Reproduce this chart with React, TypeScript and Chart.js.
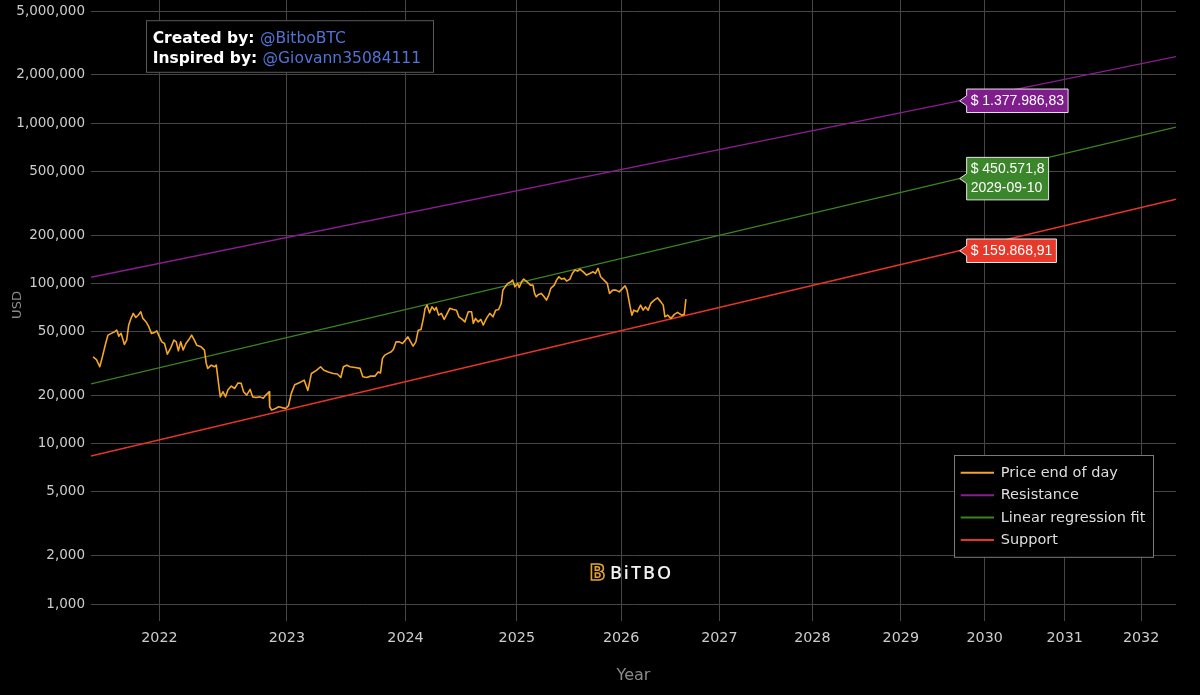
import React, { useEffect, useRef } from 'react';
import { Chart, registerables } from 'chart.js';

Chart.register(...registerables);

const GENESIS = Date.UTC(2009, 0, 3);
const DAY = 86400000;

// ---------- data ----------
const xTickYears = [2022, 2023, 2024, 2025, 2026, 2027, 2028, 2029, 2030, 2031, 2032];
const xTickLabels = ['2022', '2023', '2024', '2025', '2026', '2027', '2028', '2029', '2030', '2031', '2032'];
const yTickValues = [1000, 2000, 5000, 10000, 20000, 50000, 100000, 200000, 500000, 1000000, 2000000, 5000000];

const xRangeDates = ['2021-06-30', '2032-06-21'];
const yRange = [783.5, 6865000];

const priceYears = [
  2021.508, 2021.533, 2021.557, 2021.576, 2021.600, 2021.617, 2021.642, 2021.666, 2021.682, 2021.697,
  2021.714, 2021.738, 2021.755, 2021.770, 2021.787, 2021.804, 2021.823, 2021.842, 2021.860, 2021.876,
  2021.900, 2021.920, 2021.940, 2021.959, 2021.980, 2021.998, 2022.018, 2022.039, 2022.060, 2022.084,
  2022.110, 2022.128, 2022.144, 2022.162, 2022.181, 2022.202, 2022.222, 2022.246, 2022.267, 2022.285,
  2022.319, 2022.345, 2022.359, 2022.371, 2022.398, 2022.424, 2022.437, 2022.458, 2022.469, 2022.489,
  2022.510, 2022.528, 2022.555, 2022.581, 2022.607, 2022.633, 2022.652, 2022.677, 2022.704, 2022.724,
  2022.751, 2022.783, 2022.809, 2022.830, 2022.856, 2022.861, 2022.877, 2022.908, 2022.934, 2022.960,
  2022.991, 2023.013, 2023.036, 2023.064, 2023.115, 2023.142, 2023.172, 2023.201, 2023.243, 2023.277,
  2023.305, 2023.341, 2023.383, 2023.417, 2023.446, 2023.468, 2023.496, 2023.524, 2023.566, 2023.609,
  2023.632, 2023.665, 2023.699, 2023.735, 2023.763, 2023.783, 2023.800, 2023.820, 2023.848, 2023.876,
  2023.895, 2023.918, 2023.946, 2023.974, 2024.021, 2024.045, 2024.066, 2024.090, 2024.111, 2024.135,
  2024.159, 2024.171, 2024.189, 2024.210, 2024.232, 2024.255, 2024.270, 2024.291, 2024.315, 2024.340,
  2024.360, 2024.390, 2024.421, 2024.450, 2024.471, 2024.502, 2024.525, 2024.556, 2024.586, 2024.601,
  2024.622, 2024.646, 2024.670, 2024.691, 2024.721, 2024.751, 2024.781, 2024.805, 2024.832, 2024.856,
  2024.871, 2024.892, 2024.916, 2024.946, 2024.961, 2024.982, 2025.007, 2025.022, 2025.045, 2025.064,
  2025.096, 2025.128, 2025.151, 2025.166, 2025.182, 2025.204, 2025.230, 2025.256, 2025.278, 2025.300,
  2025.319, 2025.352, 2025.374, 2025.396, 2025.422, 2025.448, 2025.470, 2025.502, 2025.525, 2025.550,
  2025.576, 2025.598, 2025.630, 2025.662, 2025.694, 2025.726, 2025.748, 2025.774, 2025.799, 2025.832,
  2025.864, 2025.886, 2025.918, 2025.950, 2025.982, 2026.015, 2026.039, 2026.059, 2026.093, 2026.107,
  2026.127, 2026.161, 2026.194, 2026.219, 2026.242, 2026.270, 2026.296, 2026.331, 2026.364, 2026.398,
  2026.422, 2026.439, 2026.466, 2026.500, 2026.535, 2026.568, 2026.609, 2026.636, 2026.653,
];

const priceValues = [
  34800, 33500, 30200, 34800, 42200, 47600, 48800, 50000, 51100, 46900,
  48800, 41600, 44300, 55000, 60500, 65000, 61300, 63500, 66500, 60500,
  57500, 53700, 48800, 49200, 50600, 46900, 43200, 42200, 36200, 39300,
  44300, 43200, 38000, 43200, 38400, 42200, 44300, 47600, 44300, 41200,
  40200, 38400, 31700, 29500, 30900, 30200, 30900, 22700, 19600, 21100,
  19600, 21600, 22900, 22100, 23900, 23800, 21100, 20100, 21800, 19600,
  19400, 19600, 19200, 20100, 21100, 17000, 16200, 16600, 17000, 16800,
  16600, 17200, 20600, 23300, 24300, 24900, 21500, 27400, 28700, 30200,
  28700, 28000, 27400, 27200, 25900, 30200, 30900, 30200, 29900, 29500,
  26200, 25900, 26400, 26400, 28000, 27600, 34000, 35700, 36600, 37500,
  38800, 43200, 43200, 42200, 46400, 43200, 40600, 43200, 51100, 51600,
  61900, 69900, 73200, 65500, 71400, 68100, 70800, 63400, 65000, 59600,
  63400, 69900, 68800, 68100, 61900, 59600, 57500, 66500, 66500, 56300,
  60500, 57500, 59600, 55000, 60500, 65000, 61900, 68100, 68800, 75000,
  90800, 95200, 100000, 102300, 104900, 95200, 100000, 94400, 102300, 106400,
  102300, 97600, 97600, 86600, 82500, 85400, 86600, 82500, 78700, 84500,
  93100, 97600, 104900, 110000, 106400, 107500, 103400, 106400, 115400, 121100,
  119300, 122800, 118100, 112700, 115400, 118100, 115400, 124100, 110000, 104900,
  100000, 86600, 90800, 90800, 88600, 93100, 96600, 90800, 69900, 63400,
  68100, 66500, 73200, 68100, 71400, 68100, 75000, 78700, 81300, 76700,
  73200, 61900, 63400, 60500, 64100, 66000, 63400, 64100, 79800,
];

const lineDates = ['2021-06-30', '2029-09-10', '2032-06-21'];
const resistanceValues = [109200, 1377986.83, 2603000];
const regressionValues = [23610, 450571.8, 944000];
const supportValues = [8377, 159868.91, 334900];
const markerDate = '2029-09-10';

const seriesNames = ['Price end of day', 'Resistance', 'Linear regression fit', 'Support'];
const seriesColors = ['#f5a623', '#8b1c91', '#3a8424', '#e5352a'];
const labelBoxColors = ['#7f1d8c', '#3b862a', '#e8382a'];

// ---------- helpers ----------
const dayFromDate = (s: string) => (Date.parse(s + 'T00:00:00Z') - GENESIS) / DAY;
const dayFromYear = (yf: number) => {
  const y = Math.floor(yf);
  const a = Date.UTC(y, 0, 1);
  const b = Date.UTC(y + 1, 0, 1);
  return (a + (yf - y) * (b - a) - GENESIS) / DAY;
};
const groupDigits = (s: string, sep: string) => s.replace(/\B(?=(\d{3})+(?!\d))/g, sep);
const fmtEn = (v: number) => groupDigits(String(Math.round(v)), ',');
const fmtDe = (v: number) => {
  const [i, f] = String(Math.round(v * 100) / 100).split('.');
  return groupDigits(i, '.') + (f ? ',' + f : '');
};

const OFF = 11; // canvas is shifted up by this many px

const overlayPlugin = {
  id: 'overlay',
  afterDatasetsDraw(chart: any) {
    const { ctx, scales } = chart;
    const xs = scales.x;
    const ys = scales.y;
    const mx = xs.getPixelForValue(dayFromDate(markerDate));
    const items = [
      { lines: ['$ ' + fmtDe(resistanceValues[1])], v: resistanceValues[1], bg: labelBoxColors[0] },
      { lines: ['$ ' + fmtDe(regressionValues[1]), markerDate], v: regressionValues[1], bg: labelBoxColors[1] },
      { lines: ['$ ' + fmtDe(supportValues[1])], v: supportValues[1], bg: labelBoxColors[2] },
    ];
    ctx.save();
    ctx.font = '14px "Liberation Sans", Arial, sans-serif';
    ctx.textBaseline = 'middle';
    ctx.textAlign = 'left';
    for (const it of items) {
      const py = ys.getPixelForValue(it.v);
      const tipX = mx + 0.5;
      const bx = tipX + 7;
      const w = Math.max(...it.lines.map((s) => ctx.measureText(s).width)) + 8;
      const h = it.lines.length * 19 + 4.5;
      const top = py - h / 2;
      ctx.beginPath();
      ctx.moveTo(tipX, py);
      ctx.lineTo(bx, py - 5);
      ctx.lineTo(bx, top);
      ctx.lineTo(bx + w, top);
      ctx.lineTo(bx + w, top + h);
      ctx.lineTo(bx, top + h);
      ctx.lineTo(bx, py + 5);
      ctx.closePath();
      ctx.fillStyle = it.bg;
      ctx.fill();
      ctx.strokeStyle = '#e6e6e6';
      ctx.lineWidth = 1;
      ctx.stroke();
      ctx.fillStyle = '#ffffff';
      it.lines.forEach((s, i) => ctx.fillText(s, bx + 4, top + 12 + i * 19));
    }
    ctx.restore();
  },
  afterDraw(chart: any) {
    const { ctx } = chart;
    ctx.save();
    // credit box
    ctx.fillStyle = '#000';
    ctx.fillRect(146, 20.7 + OFF, 287.3, 51.6);
    ctx.strokeStyle = '#5a5a5a';
    ctx.lineWidth = 1;
    ctx.strokeRect(146.5, 20.7 + OFF, 287, 51.6);
    ctx.textBaseline = 'alphabetic';
    ctx.textAlign = 'left';
    const credit = [
      ['Created by: ', '@BitboBTC', 42.7],
      ['Inspired by: ', '@Giovann35084111', 63.3],
    ];
    for (const [a, b, y] of credit as any) {
      ctx.font = 'bold 15.5px "DejaVu Sans", Verdana, sans-serif';
      ctx.fillStyle = '#ffffff';
      ctx.fillText(a, 152.7, y + OFF);
      const w = ctx.measureText(a).width;
      ctx.font = '15.5px "DejaVu Sans", Verdana, sans-serif';
      ctx.fillStyle = '#4f74d6';
      ctx.fillText(b, 152.7 + w, y + OFF);
    }

    // legend
    ctx.fillStyle = '#000';
    ctx.fillRect(954, 455 + OFF, 199.7, 102.3);
    ctx.strokeStyle = '#7a7a7a';
    ctx.strokeRect(954.5, 455.5 + OFF, 199, 101.8);
    ctx.font = '14.5px "DejaVu Sans", Verdana, sans-serif';
    ctx.textBaseline = 'middle';
    const datasets = chart.data.datasets;
    datasets.forEach((ds: any, i: number) => {
      const y = 472.7 + i * 22.45 + OFF;
      ctx.strokeStyle = ds.borderColor;
      ctx.lineWidth = 2;
      ctx.beginPath();
      ctx.moveTo(960.7, y);
      ctx.lineTo(994, y);
      ctx.stroke();
      ctx.fillStyle = '#dedede';
      ctx.fillText(ds.label, 1000.7, y + 0.5);
    });

    // BITBO logo
    ctx.strokeStyle = '#e2a12c';
    ctx.lineWidth = 1.6;
    ctx.font = 'bold 21px "DejaVu Sans", sans-serif';
    ctx.textBaseline = 'alphabetic';
    ctx.strokeText('B', 589.5, 579.5 + OFF);
    ctx.fillStyle = '#f2f2f2';
    ctx.font = '600 18px "Open Sans", "DejaVu Sans", sans-serif';
    try { (ctx as any).letterSpacing = '2px'; } catch (e) { /* ignore */ }
    ctx.fillText('BiTBO', 610, 578.5 + OFF);
    ctx.restore();
  },
};

export default function App() {
  const ref = useRef<HTMLCanvasElement>(null);
  useEffect(() => {
    document.body.style.margin = '0';
    document.body.style.background = '#000';
    const canvas = ref.current;
    if (!canvas) return;
    const xTickDays = xTickYears.map((y) => dayFromDate(`${y}-01-01`));
    const mkLine = (vals: number[]) => lineDates.map((d, i) => ({ x: dayFromDate(d), y: vals[i] }));
    const chart = new Chart(canvas, {
      type: 'line',
      data: {
        datasets: [
          {
            label: seriesNames[0],
            data: priceYears.map((yf, i) => ({ x: dayFromYear(yf), y: priceValues[i] })),
            borderColor: seriesColors[0],
            borderWidth: 1.6,
            pointRadius: 0,
            tension: 0,
            borderJoinStyle: 'round',
          },
          { label: seriesNames[1], data: mkLine(resistanceValues), borderColor: seriesColors[1], borderWidth: 1.3, pointRadius: 0 },
          { label: seriesNames[2], data: mkLine(regressionValues), borderColor: seriesColors[2], borderWidth: 1.3, pointRadius: 0 },
          { label: seriesNames[3], data: mkLine(supportValues), borderColor: seriesColors[3], borderWidth: 1.5, pointRadius: 0 },
        ],
      },
      options: {
        animation: false,
        responsive: true,
        maintainAspectRatio: false,
        layout: { padding: { left: 0, right: 24, top: 0, bottom: 0 } },
        plugins: { legend: { display: false }, tooltip: { enabled: false } },
        scales: {
          x: {
            type: 'logarithmic',
            min: dayFromDate(xRangeDates[0]),
            max: dayFromDate(xRangeDates[1]),
            border: { display: false },
            grid: { color: '#464646', lineWidth: 1, drawTicks: false },
            afterBuildTicks: (scale: any) => {
              scale.ticks = xTickDays.map((v) => ({ value: v }));
            },
            afterFit: (scale: any) => {
              scale.height = 74;
              scale.paddingLeft = 0;
              scale.paddingRight = 0;
            },
            ticks: {
              autoSkip: false,
              maxRotation: 0,
              padding: 9,
              color: '#cccccc',
              font: { family: '"DejaVu Sans", Verdana, sans-serif', size: 14.3 },
              callback: (_v: any, i: number) => xTickLabels[i],
            },
            title: {
              display: true,
              text: 'Year',
              color: '#8a8a8a',
              font: { family: '"DejaVu Sans", Verdana, sans-serif', size: 16 },
              padding: { top: 0, bottom: 9.4 },
            },
          },
          y: {
            type: 'logarithmic',
            min: yRange[0],
            max: yRange[1],
            border: { display: false },
            grid: { color: '#464646', lineWidth: 1, drawTicks: false },
            afterBuildTicks: (scale: any) => {
              scale.ticks = yTickValues.map((v) => ({ value: v }));
            },
            afterFit: (scale: any) => {
              scale.width = 91;
              scale.paddingTop = 0;
              scale.paddingBottom = 0;
            },
            ticks: {
              autoSkip: false,
              padding: 6,
              color: '#cccccc',
              font: { family: '"DejaVu Sans", Verdana, sans-serif', size: 13.5 },
              callback: (v: any) => fmtEn(Number(v)),
            },
            title: {
              display: true,
              text: 'USD',
              color: '#8a8a8a',
              font: { family: '"DejaVu Sans", Verdana, sans-serif', size: 13 },
              padding: { top: 9.7, bottom: 0 },
            },
          },
        },
      } as any,
      plugins: [overlayPlugin],
    } as any);
    return () => chart.destroy();
  }, []);
  return (
    <div style={{ position: 'fixed', left: 0, top: -OFF, width: 1200, height: 695 + OFF, background: '#000' }}>
      <canvas ref={ref} />
    </div>
  );
}
